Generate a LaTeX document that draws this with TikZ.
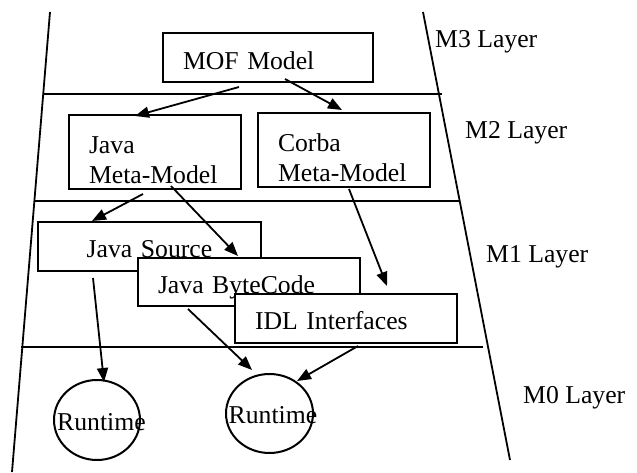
\documentclass[tikz,border=0pt]{standalone}
\usepackage{fontspec}
\setmainfont{Liberation Serif}
\usetikzlibrary{arrows.meta,shapes.geometric}
\begin{document}
\begin{tikzpicture}[x=1pt,y=-1pt,
  font=\fontsize{25.7pt}{30pt}\selectfont,
  every node/.style={inner sep=0pt},
  box/.style={draw,line width=2pt,fill=white,rectangle,inner xsep=20pt,inner ysep=0pt,align=left},
  oval/.style={draw,line width=2pt,fill=white,ellipse,inner sep=0pt,text height=20pt,text depth=0pt},
  layerline/.style={line width=1.8pt},
  conn/.style={line width=1.8pt,-{Triangle[length=14pt,width=11pt]}},
  lbl/.style={anchor=base west}]
\useasboundingbox (0,0) rectangle (637,473);
% layer boundaries
\draw[layerline] (50,12) -- (12,472);
\draw[layerline] (423,12) -- (510,460);
\draw[layerline] (43,94) -- (442,94);
\draw[layerline] (35,201) -- (459,201);
\draw[layerline] (21,347) -- (483,347);
% layer labels
\node[lbl] (m3) at (435,48) {M3 Layer};
\node[lbl] (m2) at (465,139) {M2 Layer};
\node[lbl] (m1) at (486,262) {M1 Layer};
\node[lbl] (m0) at (523,403) {M0 Layer};
% boxes
\node[box,minimum width=210pt,minimum height=49pt,text width=170pt,text height=25pt,text depth=0pt] (mof) at (268,57.5) {MOF Model};
\node[box,minimum width=172pt,minimum height=74pt,text width=132pt,text height=24pt,text depth=20pt] (javamm) at (155,152) {Java\\Meta-Model};
\node[box,minimum width=172pt,minimum height=74pt,text width=132pt,text height=24pt,text depth=20pt] (corba) at (344,150) {Corba\\Meta-Model};
\node[box,align=center,minimum width=223pt,minimum height=49pt,text width=183pt,text height=21pt,text depth=0pt] (jsrc) at (149.5,246.5) {Java Source};
\node[box,minimum width=222pt,minimum height=48pt,text width=182pt,text height=22pt,text depth=0pt] (jbc) at (249,282) {Java ByteCode};
\node[box,minimum width=222pt,minimum height=49pt,text width=182pt,text height=21pt,text depth=0pt] (idl) at (346,318.5) {IDL Interfaces};
\node[oval,minimum width=86pt,minimum height=80pt] (rt1) at (97,420) {\makebox[0pt]{\hspace*{9pt}Runtime}};
\node[oval,minimum width=87pt,minimum height=79pt] (rt2) at (269.5,413.5) {\makebox[0pt]{\hspace*{7pt}Runtime}};
% connectors
\draw[conn] ([xshift=-29pt,yshift=-4pt]mof.south) -- ([xshift=-20pt,yshift=-2pt]javamm.north);
\draw[conn] ([xshift=17pt,yshift=4pt]mof.south) -- ([xshift=-2pt,yshift=2pt]corba.north);
\draw[conn] ([xshift=-12pt,yshift=-4pt]javamm.south) -- ([xshift=-57.5pt]jsrc.north);
\draw[conn] ([xshift=16pt,yshift=4pt]javamm.south) -- ([xshift=-11pt,yshift=1pt]jbc.north);
\draw[conn] ([xshift=5pt,yshift=-1pt]corba.south) -- ([xshift=41pt,yshift=7pt]idl.north);
\draw[conn] ([xshift=-56.5pt,yshift=-6pt]jsrc.south) -- ([xshift=7pt,yshift=-3pt]rt1.north);
\draw[conn] ([xshift=-61pt,yshift=-2pt]jbc.south) -- ([xshift=-17.5pt,yshift=3pt]rt2.north);
\draw[conn] ([xshift=12pt,yshift=-2pt]idl.south) -- ([xshift=27.5pt,yshift=-8pt]rt2.north);
\end{tikzpicture}
\end{document}
